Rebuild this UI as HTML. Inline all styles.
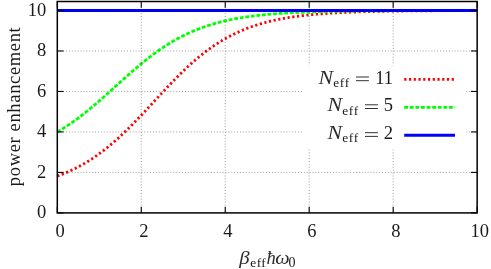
<!DOCTYPE html>
<html><head><meta charset="utf-8"><title>plot</title>
<style>
html,body{margin:0;padding:0;background:#fff;}
body{width:491px;height:269px;overflow:hidden;}
svg{display:block;will-change:transform;}
text{font-family:"Liberation Serif",serif;font-size:18.5px;fill:#1a1a1a;}
.it{font-style:italic;fill:#2b2b2b;}
.sub{font-size:13.4px;}
</style></head><body>
<svg width="491" height="269" viewBox="0 0 491 269">
<rect x="0" y="0" width="491" height="269" fill="#ffffff"/>
<path d="M57.30,176.10 L58.35,175.72 L59.40,175.33 L60.45,174.94 L61.50,174.53 L62.55,174.12 L63.60,173.70 L64.65,173.27 L65.70,172.83 L66.75,172.39 L67.80,171.93 L68.85,171.47 L69.90,171.00 L70.95,170.51 L71.99,170.02 L73.04,169.52 L74.09,169.01 L75.14,168.49 L76.19,167.96 L77.24,167.43 L78.29,166.88 L79.34,166.32 L80.39,165.75 L81.44,165.17 L82.49,164.58 L83.54,163.99 L84.59,163.38 L85.64,162.76 L86.69,162.13 L87.74,161.49 L88.79,160.83 L89.84,160.17 L90.89,159.50 L91.94,158.82 L92.99,158.12 L94.04,157.42 L95.09,156.70 L96.14,155.97 L97.19,155.24 L98.24,154.49 L99.28,153.73 L100.33,152.96 L101.38,152.17 L102.43,151.38 L103.48,150.58 L104.53,149.76 L105.58,148.94 L106.63,148.10 L107.68,147.26 L108.73,146.40 L109.78,145.53 L110.83,144.65 L111.88,143.76 L112.93,142.86 L113.98,141.95 L115.03,141.03 L116.08,140.10 L117.13,139.16 L118.18,138.21 L119.23,137.25 L120.28,136.29 L121.33,135.31 L122.38,134.32 L123.43,133.33 L124.48,132.32 L125.53,131.31 L126.58,130.29 L127.62,129.26 L128.67,128.22 L129.72,127.18 L130.77,126.12 L131.82,125.06 L132.87,124.00 L133.92,122.93 L134.97,121.85 L136.02,120.76 L137.07,119.67 L138.12,118.57 L139.17,117.47 L140.22,116.37 L141.27,115.26 L142.32,114.14 L143.37,113.02 L144.42,111.90 L145.47,110.77 L146.52,109.65 L147.57,108.52 L148.62,107.38 L149.67,106.25 L150.72,105.11 L151.77,103.97 L152.82,102.84 L153.87,101.70 L154.92,100.56 L155.96,99.42 L157.01,98.28 L158.06,97.15 L159.11,96.01 L160.16,94.88 L161.21,93.75 L162.26,92.62 L163.31,91.49 L164.36,90.37 L165.41,89.25 L166.46,88.13 L167.51,87.02 L168.56,85.92 L169.61,84.81 L170.66,83.72 L171.71,82.62 L172.76,81.54 L173.81,80.46 L174.86,79.38 L175.91,78.32 L176.96,77.26 L178.01,76.20 L179.06,75.16 L180.11,74.12 L181.16,73.09 L182.21,72.06 L183.25,71.05 L184.30,70.04 L185.35,69.04 L186.40,68.05 L187.45,67.08 L188.50,66.10 L189.55,65.14 L190.60,64.19 L191.65,63.25 L192.70,62.32 L193.75,61.40 L194.80,60.48 L195.85,59.58 L196.90,58.69 L197.95,57.81 L199.00,56.94 L200.05,56.08 L201.10,55.23 L202.15,54.39 L203.20,53.57 L204.25,52.75 L205.30,51.94 L206.35,51.15 L207.40,50.36 L208.45,49.59 L209.50,48.83 L210.55,48.08 L211.59,47.34 L212.64,46.61 L213.69,45.89 L214.74,45.18 L215.79,44.49 L216.84,43.80 L217.89,43.13 L218.94,42.46 L219.99,41.81 L221.04,41.17 L222.09,40.53 L223.14,39.91 L224.19,39.30 L225.24,38.70 L226.29,38.11 L227.34,37.53 L228.39,36.96 L229.44,36.40 L230.49,35.85 L231.54,35.31 L232.59,34.78 L233.64,34.25 L234.69,33.74 L235.74,33.24 L236.79,32.75 L237.84,32.26 L238.89,31.79 L239.93,31.32 L240.98,30.87 L242.03,30.42 L243.08,29.98 L244.13,29.55 L245.18,29.13 L246.23,28.71 L247.28,28.31 L248.33,27.91 L249.38,27.52 L250.43,27.14 L251.48,26.76 L252.53,26.40 L253.58,26.04 L254.63,25.69 L255.68,25.34 L256.73,25.00 L257.78,24.67 L258.83,24.35 L259.88,24.03 L260.93,23.72 L261.98,23.42 L263.03,23.12 L264.08,22.83 L265.13,22.55 L266.18,22.27 L267.23,22.00 L268.27,21.73 L269.32,21.47 L270.37,21.22 L271.42,20.97 L272.47,20.72 L273.52,20.49 L274.57,20.25 L275.62,20.02 L276.67,19.80 L277.72,19.58 L278.77,19.37 L279.82,19.16 L280.87,18.96 L281.92,18.76 L282.97,18.56 L284.02,18.37 L285.07,18.19 L286.12,18.00 L287.17,17.83 L288.22,17.65 L289.27,17.48 L290.32,17.32 L291.37,17.15 L292.42,17.00 L293.47,16.84 L294.52,16.69 L295.56,16.54 L296.61,16.40 L297.66,16.26 L298.71,16.12 L299.76,15.98 L300.81,15.85 L301.86,15.72 L302.91,15.60 L303.96,15.48 L305.01,15.36 L306.06,15.24 L307.11,15.13 L308.16,15.01 L309.21,14.91 L310.26,14.80 L311.31,14.70 L312.36,14.59 L313.41,14.50 L314.46,14.40 L315.51,14.31 L316.56,14.21 L317.61,14.12 L318.66,14.04 L319.71,13.95 L320.76,13.87 L321.81,13.78 L322.86,13.71 L323.90,13.63 L324.95,13.55 L326.00,13.48 L327.05,13.40 L328.10,13.33 L329.15,13.27 L330.20,13.20 L331.25,13.13 L332.30,13.07 L333.35,13.01 L334.40,12.94 L335.45,12.89 L336.50,12.83 L337.55,12.77 L338.60,12.71 L339.65,12.66 L340.70,12.61 L341.75,12.56 L342.80,12.51 L343.85,12.46 L344.90,12.41 L345.95,12.36 L347.00,12.32 L348.05,12.27 L349.10,12.23 L350.15,12.19 L351.19,12.15 L352.24,12.11 L353.29,12.07 L354.34,12.03 L355.39,11.99 L356.44,11.95 L357.49,11.92 L358.54,11.88 L359.59,11.85 L360.64,11.82 L361.69,11.78 L362.74,11.75 L363.79,11.72 L364.84,11.69 L365.89,11.66 L366.94,11.63 L367.99,11.61 L369.04,11.58 L370.09,11.55 L371.14,11.53 L372.19,11.50 L373.24,11.48 L374.29,11.45 L375.34,11.43 L376.39,11.41 L377.44,11.38 L378.49,11.36 L379.53,11.34 L380.58,11.32 L381.63,11.30 L382.68,11.28 L383.73,11.26 L384.78,11.24 L385.83,11.23 L386.88,11.21 L387.93,11.19 L388.98,11.17 L390.03,11.16 L391.08,11.14 L392.13,11.12 L393.18,11.11 L394.23,11.09 L395.28,11.08 L396.33,11.07 L397.38,11.05 L398.43,11.04 L399.48,11.02 L400.53,11.01 L401.58,11.00 L402.63,10.99 L403.68,10.97 L404.73,10.96 L405.78,10.95 L406.83,10.94 L407.87,10.93 L408.92,10.92 L409.97,10.91 L411.02,10.90 L412.07,10.89 L413.12,10.88 L414.17,10.87 L415.22,10.86 L416.27,10.85 L417.32,10.84 L418.37,10.83 L419.42,10.83 L420.47,10.82 L421.52,10.81 L422.57,10.80 L423.62,10.80 L424.67,10.79 L425.72,10.78 L426.77,10.77 L427.82,10.77 L428.87,10.76 L429.92,10.75 L430.97,10.75 L432.02,10.74 L433.07,10.74 L434.12,10.73 L435.17,10.72 L436.21,10.72 L437.26,10.71 L438.31,10.71 L439.36,10.70 L440.41,10.70 L441.46,10.69 L442.51,10.69 L443.56,10.68 L444.61,10.68 L445.66,10.67 L446.71,10.67 L447.76,10.67 L448.81,10.66 L449.86,10.66 L450.91,10.65 L451.96,10.65 L453.01,10.65 L454.06,10.64 L455.11,10.64 L456.16,10.64 L457.21,10.63 L458.26,10.63 L459.31,10.63 L460.36,10.62 L461.41,10.62 L462.46,10.62 L463.50,10.61 L464.55,10.61 L465.60,10.61 L466.65,10.61 L467.70,10.60 L468.75,10.60 L469.80,10.60 L470.85,10.60 L471.90,10.59 L472.95,10.59 L474.00,10.59 L475.05,10.59 L476.10,10.58 L477.15,10.58" fill="none" stroke="#ff0000" stroke-width="2.8" stroke-dasharray="2.2 2.55"/>
<path d="M57.30,131.94 L58.35,131.33 L59.40,130.71 L60.45,130.08 L61.50,129.44 L62.55,128.79 L63.60,128.13 L64.65,127.47 L65.70,126.79 L66.75,126.11 L67.80,125.41 L68.85,124.71 L69.90,124.00 L70.95,123.28 L71.99,122.55 L73.04,121.81 L74.09,121.06 L75.14,120.31 L76.19,119.55 L77.24,118.77 L78.29,117.99 L79.34,117.20 L80.39,116.41 L81.44,115.60 L82.49,114.79 L83.54,113.97 L84.59,113.14 L85.64,112.31 L86.69,111.47 L87.74,110.62 L88.79,109.76 L89.84,108.90 L90.89,108.03 L91.94,107.16 L92.99,106.28 L94.04,105.39 L95.09,104.50 L96.14,103.60 L97.19,102.70 L98.24,101.79 L99.28,100.88 L100.33,99.96 L101.38,99.04 L102.43,98.12 L103.48,97.19 L104.53,96.26 L105.58,95.33 L106.63,94.39 L107.68,93.45 L108.73,92.51 L109.78,91.56 L110.83,90.62 L111.88,89.67 L112.93,88.73 L113.98,87.78 L115.03,86.83 L116.08,85.88 L117.13,84.93 L118.18,83.98 L119.23,83.04 L120.28,82.09 L121.33,81.14 L122.38,80.20 L123.43,79.26 L124.48,78.32 L125.53,77.38 L126.58,76.45 L127.62,75.52 L128.67,74.59 L129.72,73.67 L130.77,72.75 L131.82,71.83 L132.87,70.92 L133.92,70.01 L134.97,69.11 L136.02,68.21 L137.07,67.32 L138.12,66.44 L139.17,65.56 L140.22,64.68 L141.27,63.81 L142.32,62.95 L143.37,62.10 L144.42,61.25 L145.47,60.41 L146.52,59.58 L147.57,58.75 L148.62,57.93 L149.67,57.12 L150.72,56.31 L151.77,55.52 L152.82,54.73 L153.87,53.95 L154.92,53.18 L155.96,52.42 L157.01,51.66 L158.06,50.92 L159.11,50.18 L160.16,49.45 L161.21,48.73 L162.26,48.02 L163.31,47.32 L164.36,46.63 L165.41,45.94 L166.46,45.27 L167.51,44.60 L168.56,43.95 L169.61,43.30 L170.66,42.66 L171.71,42.03 L172.76,41.41 L173.81,40.80 L174.86,40.20 L175.91,39.61 L176.96,39.02 L178.01,38.45 L179.06,37.88 L180.11,37.33 L181.16,36.78 L182.21,36.24 L183.25,35.71 L184.30,35.19 L185.35,34.68 L186.40,34.17 L187.45,33.68 L188.50,33.19 L189.55,32.71 L190.60,32.24 L191.65,31.78 L192.70,31.33 L193.75,30.88 L194.80,30.45 L195.85,30.02 L196.90,29.59 L197.95,29.18 L199.00,28.78 L200.05,28.38 L201.10,27.99 L202.15,27.60 L203.20,27.23 L204.25,26.86 L205.30,26.50 L206.35,26.14 L207.40,25.80 L208.45,25.46 L209.50,25.12 L210.55,24.80 L211.59,24.48 L212.64,24.16 L213.69,23.85 L214.74,23.55 L215.79,23.26 L216.84,22.97 L217.89,22.68 L218.94,22.41 L219.99,22.14 L221.04,21.87 L222.09,21.61 L223.14,21.36 L224.19,21.11 L225.24,20.86 L226.29,20.62 L227.34,20.39 L228.39,20.16 L229.44,19.94 L230.49,19.72 L231.54,19.50 L232.59,19.29 L233.64,19.09 L234.69,18.89 L235.74,18.69 L236.79,18.50 L237.84,18.31 L238.89,18.13 L239.93,17.95 L240.98,17.78 L242.03,17.61 L243.08,17.44 L244.13,17.27 L245.18,17.11 L246.23,16.96 L247.28,16.81 L248.33,16.66 L249.38,16.51 L250.43,16.37 L251.48,16.23 L252.53,16.09 L253.58,15.96 L254.63,15.83 L255.68,15.70 L256.73,15.58 L257.78,15.46 L258.83,15.34 L259.88,15.22 L260.93,15.11 L261.98,15.00 L263.03,14.89 L264.08,14.79 L265.13,14.68 L266.18,14.58 L267.23,14.48 L268.27,14.39 L269.32,14.29 L270.37,14.20 L271.42,14.11 L272.47,14.03 L273.52,13.94 L274.57,13.86 L275.62,13.78 L276.67,13.70 L277.72,13.62 L278.77,13.55 L279.82,13.47 L280.87,13.40 L281.92,13.33 L282.97,13.26 L284.02,13.19 L285.07,13.13 L286.12,13.06 L287.17,13.00 L288.22,12.94 L289.27,12.88 L290.32,12.82 L291.37,12.77 L292.42,12.71 L293.47,12.66 L294.52,12.61 L295.56,12.55 L296.61,12.50 L297.66,12.46 L298.71,12.41 L299.76,12.36 L300.81,12.32 L301.86,12.27 L302.91,12.23 L303.96,12.19 L305.01,12.15 L306.06,12.11 L307.11,12.07 L308.16,12.03 L309.21,11.99 L310.26,11.95 L311.31,11.92 L312.36,11.88 L313.41,11.85 L314.46,11.82 L315.51,11.78 L316.56,11.75 L317.61,11.72 L318.66,11.69 L319.71,11.66 L320.76,11.63 L321.81,11.61 L322.86,11.58 L323.90,11.55 L324.95,11.53 L326.00,11.50 L327.05,11.48 L328.10,11.45 L329.15,11.43 L330.20,11.41 L331.25,11.39 L332.30,11.36 L333.35,11.34 L334.40,11.32 L335.45,11.30 L336.50,11.28 L337.55,11.26 L338.60,11.24 L339.65,11.23 L340.70,11.21 L341.75,11.19 L342.80,11.17 L343.85,11.16 L344.90,11.14 L345.95,11.12 L347.00,11.11 L348.05,11.09 L349.10,11.08 L350.15,11.07 L351.19,11.05 L352.24,11.04 L353.29,11.02 L354.34,11.01 L355.39,11.00 L356.44,10.99 L357.49,10.98 L358.54,10.96 L359.59,10.95 L360.64,10.94 L361.69,10.93 L362.74,10.92 L363.79,10.91 L364.84,10.90 L365.89,10.89 L366.94,10.88 L367.99,10.87 L369.04,10.86 L370.09,10.85 L371.14,10.84 L372.19,10.84 L373.24,10.83 L374.29,10.82 L375.34,10.81 L376.39,10.80 L377.44,10.80 L378.49,10.79 L379.53,10.78 L380.58,10.77 L381.63,10.77 L382.68,10.76 L383.73,10.75 L384.78,10.75 L385.83,10.74 L386.88,10.74 L387.93,10.73 L388.98,10.72 L390.03,10.72 L391.08,10.71 L392.13,10.71 L393.18,10.70 L394.23,10.70 L395.28,10.69 L396.33,10.69 L397.38,10.68 L398.43,10.68 L399.48,10.68 L400.53,10.67 L401.58,10.67 L402.63,10.66 L403.68,10.66 L404.73,10.65 L405.78,10.65 L406.83,10.65 L407.87,10.64 L408.92,10.64 L409.97,10.64 L411.02,10.63 L412.07,10.63 L413.12,10.63 L414.17,10.62 L415.22,10.62 L416.27,10.62 L417.32,10.61 L418.37,10.61 L419.42,10.61 L420.47,10.61 L421.52,10.60 L422.57,10.60 L423.62,10.60 L424.67,10.60 L425.72,10.59 L426.77,10.59 L427.82,10.59 L428.87,10.59 L429.92,10.58 L430.97,10.58 L432.02,10.58 L433.07,10.58 L434.12,10.58 L435.17,10.57 L436.21,10.57 L437.26,10.57 L438.31,10.57 L439.36,10.57 L440.41,10.57 L441.46,10.56 L442.51,10.56 L443.56,10.56 L444.61,10.56 L445.66,10.56 L446.71,10.56 L447.76,10.56 L448.81,10.55 L449.86,10.55 L450.91,10.55 L451.96,10.55 L453.01,10.55 L454.06,10.55 L455.11,10.55 L456.16,10.55 L457.21,10.54 L458.26,10.54 L459.31,10.54 L460.36,10.54 L461.41,10.54 L462.46,10.54 L463.50,10.54 L464.55,10.54 L465.60,10.54 L466.65,10.54 L467.70,10.53 L468.75,10.53 L469.80,10.53 L470.85,10.53 L471.90,10.53 L472.95,10.53 L474.00,10.53 L475.05,10.53 L476.10,10.53 L477.15,10.53" fill="none" stroke="#00ff00" stroke-width="2.8" stroke-dasharray="3.8 1.8"/>
<line x1="57.3" y1="10.50" x2="477.15" y2="10.50" stroke="#0000ff" stroke-width="2.9"/>
<g stroke="#000000" stroke-width="0.45" stroke-opacity="0.85" stroke-dasharray="1.0 1.9" fill="none">
<line x1="141.27" y1="1.50" x2="141.27" y2="212.90"/>
<line x1="225.24" y1="1.50" x2="225.24" y2="212.90"/>
<line x1="309.21" y1="1.50" x2="309.21" y2="212.90"/>
<line x1="393.18" y1="1.50" x2="393.18" y2="212.90"/>
<line x1="57.30" y1="172.42" x2="477.15" y2="172.42"/>
<line x1="57.30" y1="131.94" x2="477.15" y2="131.94"/>
<line x1="57.30" y1="91.46" x2="477.15" y2="91.46"/>
<line x1="57.30" y1="50.98" x2="477.15" y2="50.98"/>
<line x1="57.30" y1="10.50" x2="477.15" y2="10.50"/>
</g>
<rect x="302" y="65.6" width="164.2" height="83.7" fill="#ffffff"/>
<line x1="404.2" y1="79.4" x2="454.8" y2="79.4" stroke="#ff0000" stroke-width="2.9" stroke-dasharray="2.2 2.55"/>
<line x1="404.2" y1="107.3" x2="455" y2="107.3" stroke="#00ff00" stroke-width="2.7" stroke-dasharray="3.8 1.8"/>
<line x1="404.2" y1="135.3" x2="455" y2="135.3" stroke="#0000ff" stroke-width="2.9"/>
<g stroke="#000000" stroke-width="1.1" fill="none">
<line x1="57.30" y1="212.90" x2="57.30" y2="206.70"/>
<line x1="57.30" y1="1.50" x2="57.30" y2="7.70"/>
<line x1="57.30" y1="212.90" x2="63.50" y2="212.90"/>
<line x1="477.15" y1="212.90" x2="470.95" y2="212.90"/>
<line x1="141.27" y1="212.90" x2="141.27" y2="206.70"/>
<line x1="141.27" y1="1.50" x2="141.27" y2="7.70"/>
<line x1="57.30" y1="172.42" x2="63.50" y2="172.42"/>
<line x1="477.15" y1="172.42" x2="470.95" y2="172.42"/>
<line x1="225.24" y1="212.90" x2="225.24" y2="206.70"/>
<line x1="225.24" y1="1.50" x2="225.24" y2="7.70"/>
<line x1="57.30" y1="131.94" x2="63.50" y2="131.94"/>
<line x1="477.15" y1="131.94" x2="470.95" y2="131.94"/>
<line x1="309.21" y1="212.90" x2="309.21" y2="206.70"/>
<line x1="309.21" y1="1.50" x2="309.21" y2="7.70"/>
<line x1="57.30" y1="91.46" x2="63.50" y2="91.46"/>
<line x1="477.15" y1="91.46" x2="470.95" y2="91.46"/>
<line x1="393.18" y1="212.90" x2="393.18" y2="206.70"/>
<line x1="393.18" y1="1.50" x2="393.18" y2="7.70"/>
<line x1="57.30" y1="50.98" x2="63.50" y2="50.98"/>
<line x1="477.15" y1="50.98" x2="470.95" y2="50.98"/>
<line x1="477.15" y1="212.90" x2="477.15" y2="206.70"/>
<line x1="477.15" y1="1.50" x2="477.15" y2="7.70"/>
<line x1="57.30" y1="10.50" x2="63.50" y2="10.50"/>
<line x1="477.15" y1="10.50" x2="470.95" y2="10.50"/>
</g>
<rect x="57.3" y="1.5" width="419.84999999999997" height="211.4" stroke="#000000" stroke-width="1.5" fill="none"/>
<g id="txt">
<text x="60.00" y="236.8" text-anchor="middle">0</text>
<text x="143.97" y="236.8" text-anchor="middle">2</text>
<text x="227.94" y="236.8" text-anchor="middle">4</text>
<text x="311.91" y="236.8" text-anchor="middle">6</text>
<text x="395.88" y="236.8" text-anchor="middle">8</text>
<text x="479.85" y="236.8" text-anchor="middle">10</text>
<text x="46.3" y="218.20" text-anchor="end">0</text>
<text x="46.3" y="177.72" text-anchor="end">2</text>
<text x="46.3" y="137.24" text-anchor="end">4</text>
<text x="46.3" y="96.76" text-anchor="end">6</text>
<text x="46.3" y="56.28" text-anchor="end">8</text>
<text x="46.3" y="15.80" text-anchor="end">10</text>
<text class="it" transform="translate(318.60,83.60) scale(1.18,1)" x="0" y="0">N</text>
<text class="sub" x="333.20" y="86.70" letter-spacing="0.7">eff</text>
<g stroke="#1a1a1a" stroke-width="0.9"><line x1="356.00" y1="77.00" x2="368.90" y2="77.00"/><line x1="356.00" y1="80.70" x2="368.90" y2="80.70"/></g>
<text x="393" y="83.60" text-anchor="end">11</text>
<text class="it" transform="translate(327.60,111.40) scale(1.18,1)" x="0" y="0">N</text>
<text class="sub" x="342.20" y="114.50" letter-spacing="0.7">eff</text>
<g stroke="#1a1a1a" stroke-width="0.9"><line x1="365.00" y1="104.80" x2="377.90" y2="104.80"/><line x1="365.00" y1="108.50" x2="377.90" y2="108.50"/></g>
<text x="393" y="111.40" text-anchor="end">5</text>
<text class="it" transform="translate(327.60,139.30) scale(1.18,1)" x="0" y="0">N</text>
<text class="sub" x="342.20" y="142.40" letter-spacing="0.7">eff</text>
<g stroke="#1a1a1a" stroke-width="0.9"><line x1="365.00" y1="132.70" x2="377.90" y2="132.70"/><line x1="365.00" y1="136.40" x2="377.90" y2="136.40"/></g>
<text x="393" y="139.30" text-anchor="end">2</text>
<text class="it" transform="translate(239.3,263.9) scale(1.12,1)" x="0" y="0">β</text>
<text class="sub" x="250.2" y="266.9" letter-spacing="0.5">eff</text>
<text class="it" x="266.4" y="263.9">ħ</text>
<text class="it" transform="translate(275.2,263.9) scale(1.1,1)" x="0" y="0">ω</text>
<text class="sub" x="288.6" y="266.7" style="font-size:14px">0</text>
<text transform="translate(20.4,106.4) rotate(-90)" text-anchor="middle" letter-spacing="0.65">power enhancement</text>
</g>
</svg>
</body></html>
